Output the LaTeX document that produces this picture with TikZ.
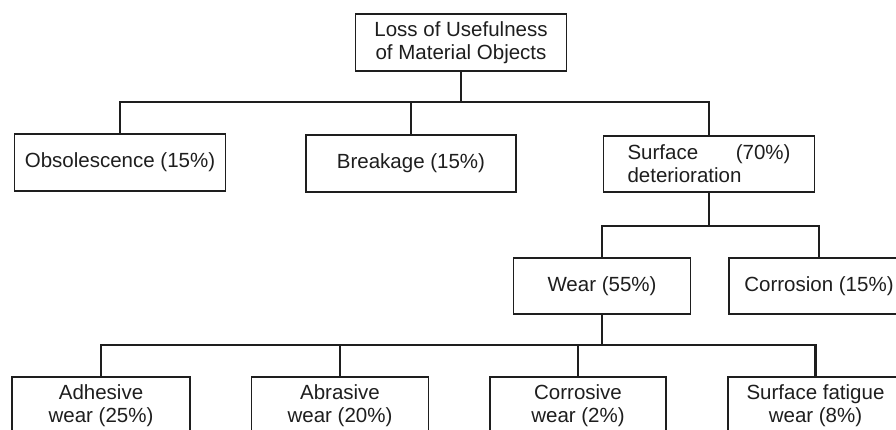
\documentclass[tikz,border=0pt]{standalone}
\usepackage{fontspec}
\setmainfont{Liberation Sans}
\definecolor{ink}{HTML}{1E1E1E}
\begin{document}
\begin{tikzpicture}[x=1pt,y=-1pt,
  box/.style={draw=ink,line width=1.9pt,text=ink,inner sep=0pt,align=center,
    font=\fontsize{20.5}{23}\selectfont},
  link/.style={draw=ink,line width=2.1pt}]
\useasboundingbox (0,0) rectangle (896,429);
\clip (0,0) rectangle (896,429);
\fill[white] (0,0) rectangle (896,429);
% level 0
\node[box,minimum width=211pt,minimum height=57pt] (top) at (461,42.5) {Loss of Usefulness\\of Material Objects};
% level 1
\node[box,minimum width=211pt,minimum height=57pt] (obs) at (120,162.5) {Obsolescence (15\%)};
\node[box,minimum width=210pt,minimum height=57pt] (brk) at (411,163.5) {Breakage (15\%)};
\node[box,minimum width=211pt,minimum height=56pt,text width=163pt,align=left] (surf) at (709,164)
  {\makebox[163pt][l]{Surface\hfill(70\%)}\\deterioration};
% level 2
\node[box,minimum width=177pt,minimum height=56pt] (wear) at (602,286) {Wear (55\%)};
\node[box,minimum width=180pt,minimum height=56pt] (corr) at (819,286) {Corrosion (15\%)};
% level 3
\node[box,minimum width=178pt,minimum height=57pt] (adh) at (101,405.5) {Adhesive\\wear (25\%)};
\node[box,minimum width=177pt,minimum height=57pt] (abr) at (340,405.5) {Abrasive\\wear (20\%)};
\node[box,minimum width=176pt,minimum height=57pt] (cor) at (578,405.5) {Corrosive\\wear (2\%)};
\node[box,minimum width=175pt,minimum height=57pt] (fat) at (815.5,405.5) {Surface fatigue\\wear (8\%)};
% connectors
\coordinate (b1) at (461,102);
\coordinate (b2) at (709,226);
\coordinate (b3) at (602,345);
\draw[link] (top.south) -- (b1);
\draw[link] (obs.north) |- (b1) -| (surf.north);
\draw[link] (brk.north) -- (brk.north |- b1);
\draw[link] (surf.south) -- (b2);
\draw[link] (wear.north) |- (b2) -| (corr.north);
\draw[link] (wear.south) -- (b3);
\draw[link] (adh.north) |- (b3) -| (fat.north);
\draw[link] (abr.north) -- (abr.north |- b3);
\draw[link] (cor.north) -- (cor.north |- b3);
\end{tikzpicture}
\end{document}
